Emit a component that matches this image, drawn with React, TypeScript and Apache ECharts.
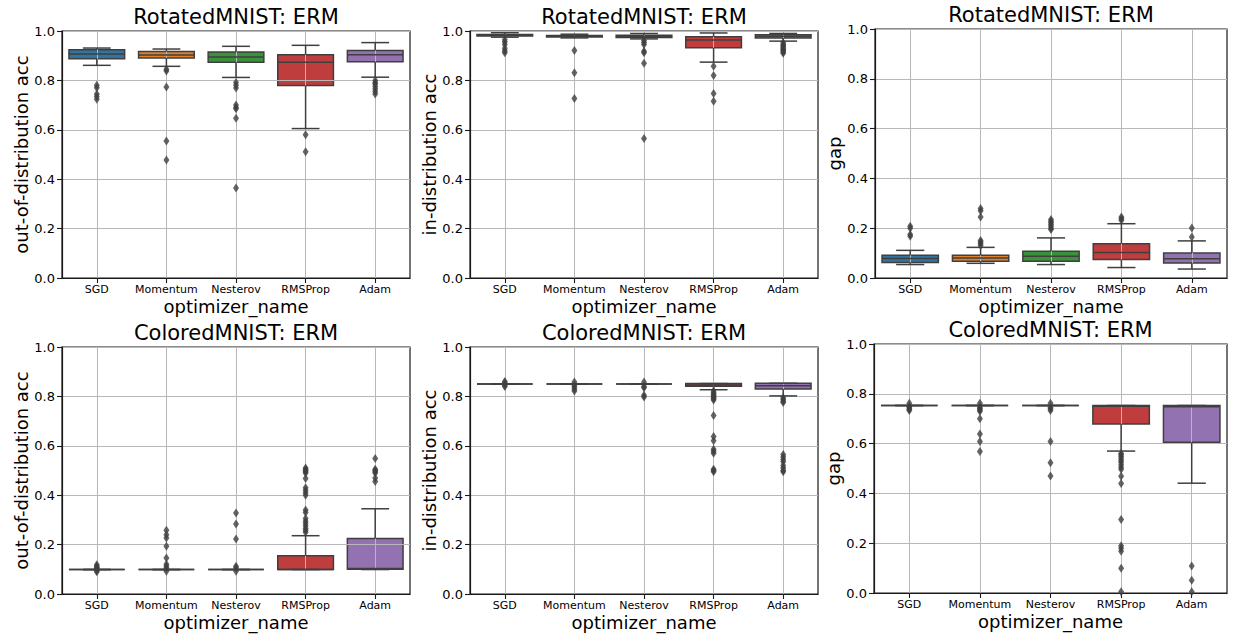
import React, { useEffect, useRef } from "react";
import * as echarts from "echarts";

const categories = ["SGD", "Momentum", "Nesterov", "RMSProp", "Adam"];
const palette = ["#3274a1", "#e1812c", "#3a923a", "#c03d3e", "#9372b2"];
const yTickValues = [0, 0.2, 0.4, 0.6, 0.8, 1.0];

// box stats per optimizer: [lower whisker, q1, median, q3, upper whisker]
const rotOodBoxes = [
  [0.861, 0.888, 0.907, 0.924, 0.931],
  [0.857, 0.891, 0.903, 0.917, 0.927],
  [0.812, 0.873, 0.895, 0.915, 0.938],
  [0.605, 0.779, 0.873, 0.904, 0.942],
  [0.813, 0.876, 0.904, 0.921, 0.953],
];
const rotOodOutliers = [
  [0.78, 0.77, 0.745, 0.735, 0.724],
  [0.845, 0.838, 0.773, 0.555, 0.478],
  [0.792, 0.78, 0.769, 0.7, 0.69, 0.685, 0.647, 0.364],
  [0.58, 0.511],
  [0.8, 0.79, 0.785, 0.775, 0.765, 0.755, 0.745],
];

const rotIdBoxes = [
  [0.975, 0.98, 0.983, 0.986, 0.993],
  [0.972, 0.976, 0.979, 0.982, 0.987],
  [0.968, 0.974, 0.978, 0.983, 0.99],
  [0.874, 0.932, 0.964, 0.977, 0.992],
  [0.959, 0.972, 0.979, 0.985, 0.99],
];
const rotIdOutliers = [
  [0.965, 0.955, 0.945, 0.93, 0.92, 0.912],
  [0.921, 0.831, 0.727],
  [0.962, 0.953, 0.945, 0.918, 0.912, 0.869, 0.565],
  [0.857, 0.82, 0.747, 0.716],
  [0.952, 0.945, 0.94, 0.935, 0.93, 0.925, 0.92, 0.915, 0.91],
];

const rotGapBoxes = [
  [0.054, 0.062, 0.078, 0.091, 0.111],
  [0.059, 0.067, 0.08, 0.091, 0.123],
  [0.054, 0.067, 0.087, 0.107, 0.161],
  [0.042, 0.074, 0.102, 0.138, 0.218],
  [0.036, 0.06, 0.077, 0.1, 0.149],
];
const rotGapOutliers = [
  [0.208, 0.2, 0.175, 0.168],
  [0.279, 0.27, 0.245, 0.151, 0.145, 0.138, 0.131],
  [0.235, 0.228, 0.222, 0.215, 0.208, 0.2, 0.195],
  [0.245, 0.238, 0.232],
  [0.201, 0.165],
];

const colOodBoxes = [
  [0.099, 0.099, 0.099, 0.099, 0.099],
  [0.099, 0.099, 0.099, 0.099, 0.099],
  [0.099, 0.099, 0.099, 0.099, 0.099],
  [0.099, 0.099, 0.099, 0.155, 0.236],
  [0.099, 0.1, 0.103, 0.225, 0.345],
];
const colOodOutliers = [
  [0.118, 0.112, 0.108, 0.104, 0.094, 0.09],
  [0.258, 0.24, 0.227, 0.193, 0.146, 0.12, 0.112, 0.105, 0.092],
  [0.328, 0.283, 0.223, 0.112, 0.106, 0.092],
  [0.51, 0.505, 0.5, 0.495, 0.49, 0.468, 0.43, 0.42, 0.41, 0.4, 0.34, 0.33, 0.306, 0.295, 0.285, 0.275, 0.265, 0.258, 0.25],
  [0.549, 0.505, 0.5, 0.495, 0.49, 0.47, 0.455],
];

const colIdBoxes = [
  [0.85, 0.85, 0.85, 0.85, 0.85],
  [0.85, 0.85, 0.85, 0.85, 0.85],
  [0.85, 0.85, 0.85, 0.85, 0.85],
  [0.827, 0.841, 0.846, 0.852, 0.852],
  [0.802, 0.83, 0.843, 0.853, 0.853],
];
const colIdOutliers = [
  [0.86, 0.855, 0.845, 0.84],
  [0.858, 0.845, 0.838, 0.83, 0.822],
  [0.858, 0.84, 0.835, 0.805, 0.798],
  [0.822, 0.815, 0.81, 0.805, 0.8, 0.795, 0.79, 0.785, 0.723, 0.638, 0.62, 0.586, 0.578, 0.57, 0.505, 0.5, 0.495],
  [0.795, 0.787, 0.78, 0.775, 0.565, 0.555, 0.545, 0.535, 0.52, 0.51, 0.5, 0.495],
];

const colGapBoxes = [
  [0.753, 0.753, 0.753, 0.753, 0.753],
  [0.753, 0.753, 0.753, 0.753, 0.753],
  [0.753, 0.753, 0.753, 0.753, 0.753],
  [0.57, 0.679, 0.75, 0.753, 0.753],
  [0.441, 0.605, 0.748, 0.753, 0.753],
];
const colGapOutliers = [
  [0.762, 0.748, 0.743, 0.738, 0.733],
  [0.762, 0.745, 0.74, 0.735, 0.73, 0.7, 0.639, 0.608, 0.568],
  [0.762, 0.745, 0.74, 0.733, 0.608, 0.523, 0.47],
  [0.56, 0.555, 0.548, 0.54, 0.532, 0.525, 0.515, 0.505, 0.497, 0.469, 0.44, 0.295, 0.19, 0.18, 0.168, 0.099, 0.005],
  [0.108, 0.051, 0.005],
];

const titles = [
  "RotatedMNIST: ERM", "RotatedMNIST: ERM", "RotatedMNIST: ERM",
  "ColoredMNIST: ERM", "ColoredMNIST: ERM", "ColoredMNIST: ERM",
];
const yNames = [
  "out-of-distribution acc", "in-distribution acc", "gap",
  "out-of-distribution acc", "in-distribution acc", "gap",
];
const xName = "optimizer_name";
const panelBoxes = [rotOodBoxes, rotIdBoxes, rotGapBoxes, colOodBoxes, colIdBoxes, colGapBoxes];
const panelOutliers = [rotOodOutliers, rotIdOutliers, rotGapOutliers, colOodOutliers, colIdOutliers, colGapOutliers];

const layouts = [
  { left: 62, top: 31, width: 348, height: 247 },
  { left: 470, top: 31, width: 348, height: 247 },
  { left: 875, top: 29, width: 352, height: 249 },
  { left: 62, top: 347, width: 348, height: 247 },
  { left: 470, top: 347, width: 348, height: 247 },
  { left: 874, top: 344, width: 353, height: 249 },
];

const EDGE = "#3f3f3f";
const FONT = "DejaVu Sans";

export default function App() {
  const ref = useRef<HTMLDivElement>(null);
  useEffect(() => {
    document.body.style.margin = "0";
    const chart = echarts.init(ref.current!, null, { renderer: "svg" });

    const grid: any[] = [];
    const xAxis: any[] = [];
    const yAxis: any[] = [];
    const series: any[] = [];
    const title: any[] = [];

    layouts.forEach((l, i) => {
      grid.push({
        left: l.left, top: l.top, width: l.width, height: l.height,
        show: true, borderColor: "#1a1a1a", borderWidth: 1.2, backgroundColor: "transparent",
      });
      title.push({
        text: titles[i],
        left: l.left + l.width / 2,
        top: l.top - 25,
        textAlign: "center",
        padding: 0,
        textStyle: { fontFamily: FONT, fontSize: 21, fontWeight: "normal", color: "#000" },
      });
      xAxis.push({
        type: "category", gridIndex: i, data: categories, z: 3,
        name: xName, nameLocation: "middle", nameGap: 19,
        nameTextStyle: { fontFamily: FONT, fontSize: 18, color: "#000" },
        axisLine: { show: true, lineStyle: { color: "#1a1a1a", width: 1.2 } },
        axisTick: { show: true, alignWithLabel: true, length: 5, lineStyle: { color: "#1a1a1a", width: 1.1 } },
        axisLabel: { fontFamily: FONT, fontSize: 11, color: "#000", margin: 6, interval: 0 },
        splitLine: { show: true, alignWithLabel: true, interval: 0, lineStyle: { color: "#b8b8b8", width: 1 } },
      });
      yAxis.push({
        type: "value", gridIndex: i, min: yTickValues[0], max: yTickValues[yTickValues.length - 1], interval: 0.2, z: 3,
        name: yNames[i], nameLocation: "middle", nameGap: 30,
        nameTextStyle: { fontFamily: FONT, fontSize: 18, color: "#000" },
        axisLine: { show: true, lineStyle: { color: "#1a1a1a", width: 1.2 } },
        axisTick: { show: true, length: 5, lineStyle: { color: "#1a1a1a", width: 1.1 } },
        axisLabel: { fontFamily: FONT, fontSize: 13, color: "#000", margin: 7, formatter: (v: number) => v.toFixed(1) },
        splitLine: { show: true, lineStyle: { color: "#b8b8b8", width: 1 } },
      });

      const data = panelBoxes[i].map((b, c) => [c, ...b]);
      series.push({
        type: "custom", xAxisIndex: i, yAxisIndex: i, z: 1,
        encode: { x: 0, y: [1, 2, 3, 4, 5] },
        data,
        renderItem: (params: any, api: any) => {
          const c = api.value(0);
          const q1 = api.value(2), q3 = api.value(4);
          const band = api.size([1, 0])[0];
          const bw = band * 0.8;
          const p3 = api.coord([c, q3]);
          const p1 = api.coord([c, q1]);
          return {
            type: "rect",
            shape: { x: p3[0] - bw / 2, y: p3[1], width: bw, height: p1[1] - p3[1] },
            style: { fill: palette[c], stroke: EDGE, lineWidth: 1.5 },
          };
        },
      });
      series.push({
        type: "custom", xAxisIndex: i, yAxisIndex: i, z: 5,
        encode: { x: 0, y: [1, 2, 3, 4, 5] },
        data,
        renderItem: (params: any, api: any) => {
          const c = api.value(0);
          const lo = api.value(1), q1 = api.value(2), med = api.value(3), q3 = api.value(4), hi = api.value(5);
          const band = api.size([1, 0])[0];
          const bw = band * 0.8;
          const cw = band * 0.4;
          const pLo = api.coord([c, lo]);
          const p1 = api.coord([c, q1]);
          const pM = api.coord([c, med]);
          const p3 = api.coord([c, q3]);
          const pHi = api.coord([c, hi]);
          const x = pM[0];
          const st = { stroke: EDGE, lineWidth: 1.5 };
          return {
            type: "group",
            children: [
              { type: "line", shape: { x1: x, y1: p1[1], x2: x, y2: pLo[1] }, style: st },
              { type: "line", shape: { x1: x, y1: p3[1], x2: x, y2: pHi[1] }, style: st },
              { type: "line", shape: { x1: x - cw / 2, y1: pLo[1], x2: x + cw / 2, y2: pLo[1] }, style: st },
              { type: "line", shape: { x1: x - cw / 2, y1: pHi[1], x2: x + cw / 2, y2: pHi[1] }, style: st },
              { type: "line", shape: { x1: x - bw / 2, y1: pM[1], x2: x + bw / 2, y2: pM[1] }, style: st },
            ],
          };
        },
      });
      const outs: number[][] = [];
      panelOutliers[i].forEach((arr, c) => arr.forEach((v) => outs.push([c, v])));
      series.push({
        type: "scatter", xAxisIndex: i, yAxisIndex: i, z: 6,
        symbol: "diamond", symbolSize: [6, 9],
        itemStyle: { color: EDGE },
        data: outs,
        clip: false,
      });
    });

    chart.setOption({
      animation: false,
      backgroundColor: "#ffffff",
      title,
      grid,
      xAxis,
      yAxis,
      series,
    });
    return () => chart.dispose();
  }, []);
  return <div ref={ref} style={{ width: 1233, height: 638 }} />;
}
